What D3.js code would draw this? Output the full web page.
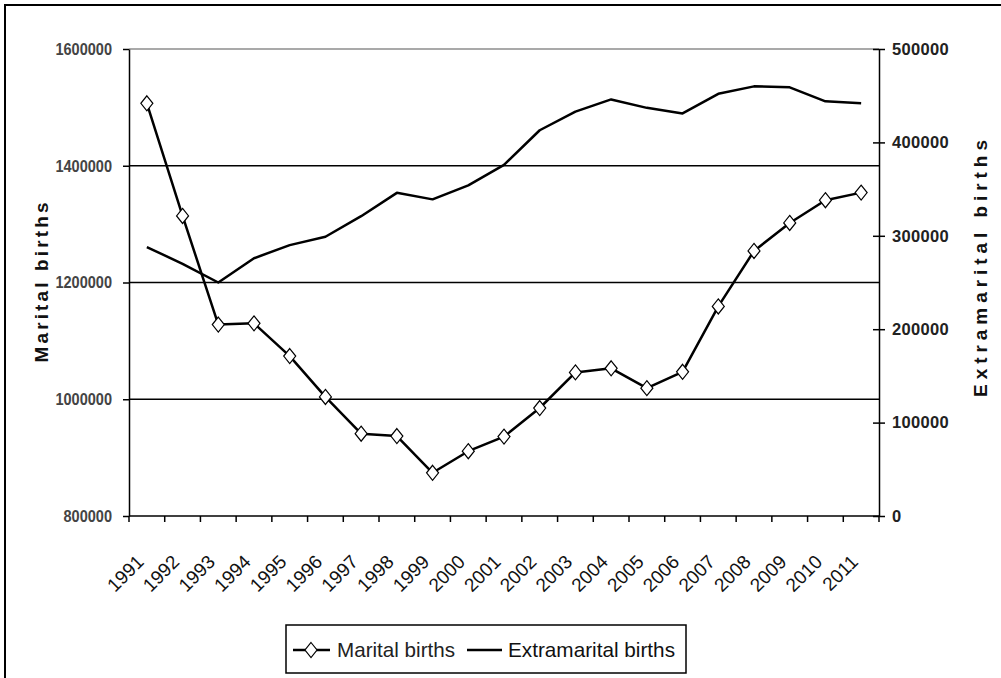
<!DOCTYPE html>
<html><head><meta charset="utf-8">
<script src="https://cdn.jsdelivr.net/npm/d3@7"></script>
<style>
html,body{margin:0;padding:0;background:#fff;}
svg{display:block;}
text{font-family:"Liberation Sans Narrow","Arial Narrow","Liberation Sans",Arial,sans-serif;}
</style></head>
<body>
<svg id="chart" width="1001" height="678"></svg>
<script>
const years = ["1991","1992","1993","1994","1995","1996","1997","1998","1999","2000","2001","2002","2003","2004","2005","2006","2007","2008","2009","2010","2011"];
const maritalBirths = [1507000,1314000,1128000,1130000,1074000,1004000,941000,937000,874000,911000,936000,985000,1046000,1053000,1019000,1047000,1159000,1254000,1302000,1341000,1354000];
const extramaritalBirths = [288000,270000,250000,276000,290000,299000,321000,346000,339000,354000,376000,413000,433000,446000,437000,431000,452000,460000,459000,444000,442000];
const leftTicks = [800000,1000000,1200000,1400000,1600000];
const rightTicks = [0,100000,200000,300000,400000,500000];
const seriesNames = ["Marital births","Extramarital births"];
const leftTitle = "Marital births";
const rightTitle = "Extramarital births";

const svg = d3.select("#chart");
const L = 129, R = 879, T = 49, B = 516;

const x = d3.scaleBand().domain(years).range([L, R]).padding(0);
const yL = d3.scaleLinear().domain([800000,1600000]).range([B, T]);
const yR = d3.scaleLinear().domain([0,500000]).range([B, T]);
const cx = d => x(d) + x.bandwidth()/2;

function condense(sel, factor){
  sel.each(function(){
    const w = this.getComputedTextLength();
    d3.select(this).attr("textLength", w*factor).attr("lengthAdjust","spacingAndGlyphs");
  });
}
function fitTo(sel, len, mode){
  sel.attr("textLength", len).attr("lengthAdjust", mode || "spacingAndGlyphs");
}

// outer frame (left and top edges)
svg.append("path").attr("d","M5,678 V5 H1001").attr("fill","none").attr("stroke","#000").attr("stroke-width",2);

// gridlines
svg.append("g").selectAll("line").data(leftTicks.filter(v=>v>800000)).join("line")
  .attr("x1",L).attr("x2",R).attr("y1",d=>yL(d)).attr("y2",d=>yL(d))
  .attr("stroke",d=>d===1600000?"#8c8c8c":"#000").attr("stroke-width",1.5);

// left axis
const gl = svg.append("g").attr("transform",`translate(${L},0)`)
  .call(d3.axisLeft(yL).tickValues(leftTicks).tickSize(6).tickSizeOuter(0).tickFormat(d3.format("d")));
gl.select(".domain").attr("stroke","#000").attr("stroke-width",1.5);
gl.selectAll(".tick line").attr("stroke","#000").attr("stroke-width",1.5);
gl.selectAll(".tick text").attr("x",-17).attr("font-size",16.5).attr("fill","#444").attr("font-weight","bold");
condense(gl.selectAll(".tick text"), 0.88);

// right axis
const gr = svg.append("g").attr("transform",`translate(${R},0)`)
  .call(d3.axisRight(yR).tickValues(rightTicks).tickSize(6).tickSizeOuter(0).tickFormat(d3.format("d")));
gr.select(".domain").attr("stroke","#000").attr("stroke-width",1.5);
gr.selectAll(".tick line").attr("x1",-6).attr("stroke","#000").attr("stroke-width",1.5);
gr.selectAll(".tick text").attr("x",13).attr("font-size",16.5).attr("fill","#222").attr("font-weight","bold").attr("letter-spacing","0.3px");

// x axis
svg.append("line").attr("x1",L).attr("x2",R).attr("y1",B).attr("y2",B).attr("stroke","#000").attr("stroke-width",1.5);
const bounds = years.map(y=>x(y)).concat([R]);
svg.append("g").selectAll("line").data(bounds).join("line")
  .attr("x1",d=>d).attr("x2",d=>d).attr("y1",B).attr("y2",B+6).attr("stroke","#000").attr("stroke-width",1.5);
svg.append("g").selectAll("text").data(years).join("text")
  .attr("transform",d=>`translate(${cx(d)-2},${B+47}) rotate(-45)`)
  .attr("text-anchor","end").attr("font-size",19).attr("fill","#111").text(d=>d);

// axis titles
const tl = svg.append("text").attr("transform",`translate(48,${(T+B)/2}) rotate(-90)`)
  .attr("text-anchor","middle").attr("font-size",19).attr("font-weight","bold").attr("fill","#111").text(leftTitle);
fitTo(tl, 160, "spacing");
const tr = svg.append("text").attr("transform",`translate(987,${(T+B)/2-14}) rotate(-90)`)
  .attr("text-anchor","middle").attr("font-size",19).attr("font-weight","bold").attr("fill","#111").text(rightTitle);
fitTo(tr, 257, "spacing");

// lines
const lineL = d3.line().x((d,i)=>cx(years[i])).y(d=>yL(d));
const lineR = d3.line().x((d,i)=>cx(years[i])).y(d=>yR(d));
svg.append("path").datum(extramaritalBirths).attr("d",lineR).attr("fill","none").attr("stroke","#000").attr("stroke-width",2.5).attr("stroke-linejoin","round");
svg.append("path").datum(maritalBirths).attr("d",lineL).attr("fill","none").attr("stroke","#000").attr("stroke-width",2.5).attr("stroke-linejoin","round");

const diamond = "M0,-7.5 L6,0 L0,7.5 L-6,0 Z";
svg.append("g").selectAll("path").data(maritalBirths).join("path")
  .attr("transform",(d,i)=>`translate(${cx(years[i])},${yL(d)})`)
  .attr("d",diamond).attr("fill","#fff").attr("stroke","#000").attr("stroke-width",1.2);

// legend
const lg = svg.append("g");
lg.append("rect").attr("x",286).attr("y",625).attr("width",400).attr("height",48).attr("fill","#fff").attr("stroke","#000").attr("stroke-width",1.5);
lg.append("line").attr("x1",293).attr("x2",330).attr("y1",650).attr("y2",650).attr("stroke","#000").attr("stroke-width",2.5);
lg.append("path").attr("transform","translate(311,650)").attr("d",diamond).attr("fill","#fff").attr("stroke","#000").attr("stroke-width",1.2);
const l1 = lg.append("text").attr("x",337).attr("y",657).attr("font-size",21).attr("fill","#222").text(seriesNames[0]);
fitTo(l1, 118);
lg.append("line").attr("x1",467).attr("x2",502).attr("y1",650).attr("y2",650).attr("stroke","#000").attr("stroke-width",2.5);
const l2 = lg.append("text").attr("x",508).attr("y",657).attr("font-size",21).attr("fill","#111").text(seriesNames[1]);
fitTo(l2, 167);
</script>
</body></html>
